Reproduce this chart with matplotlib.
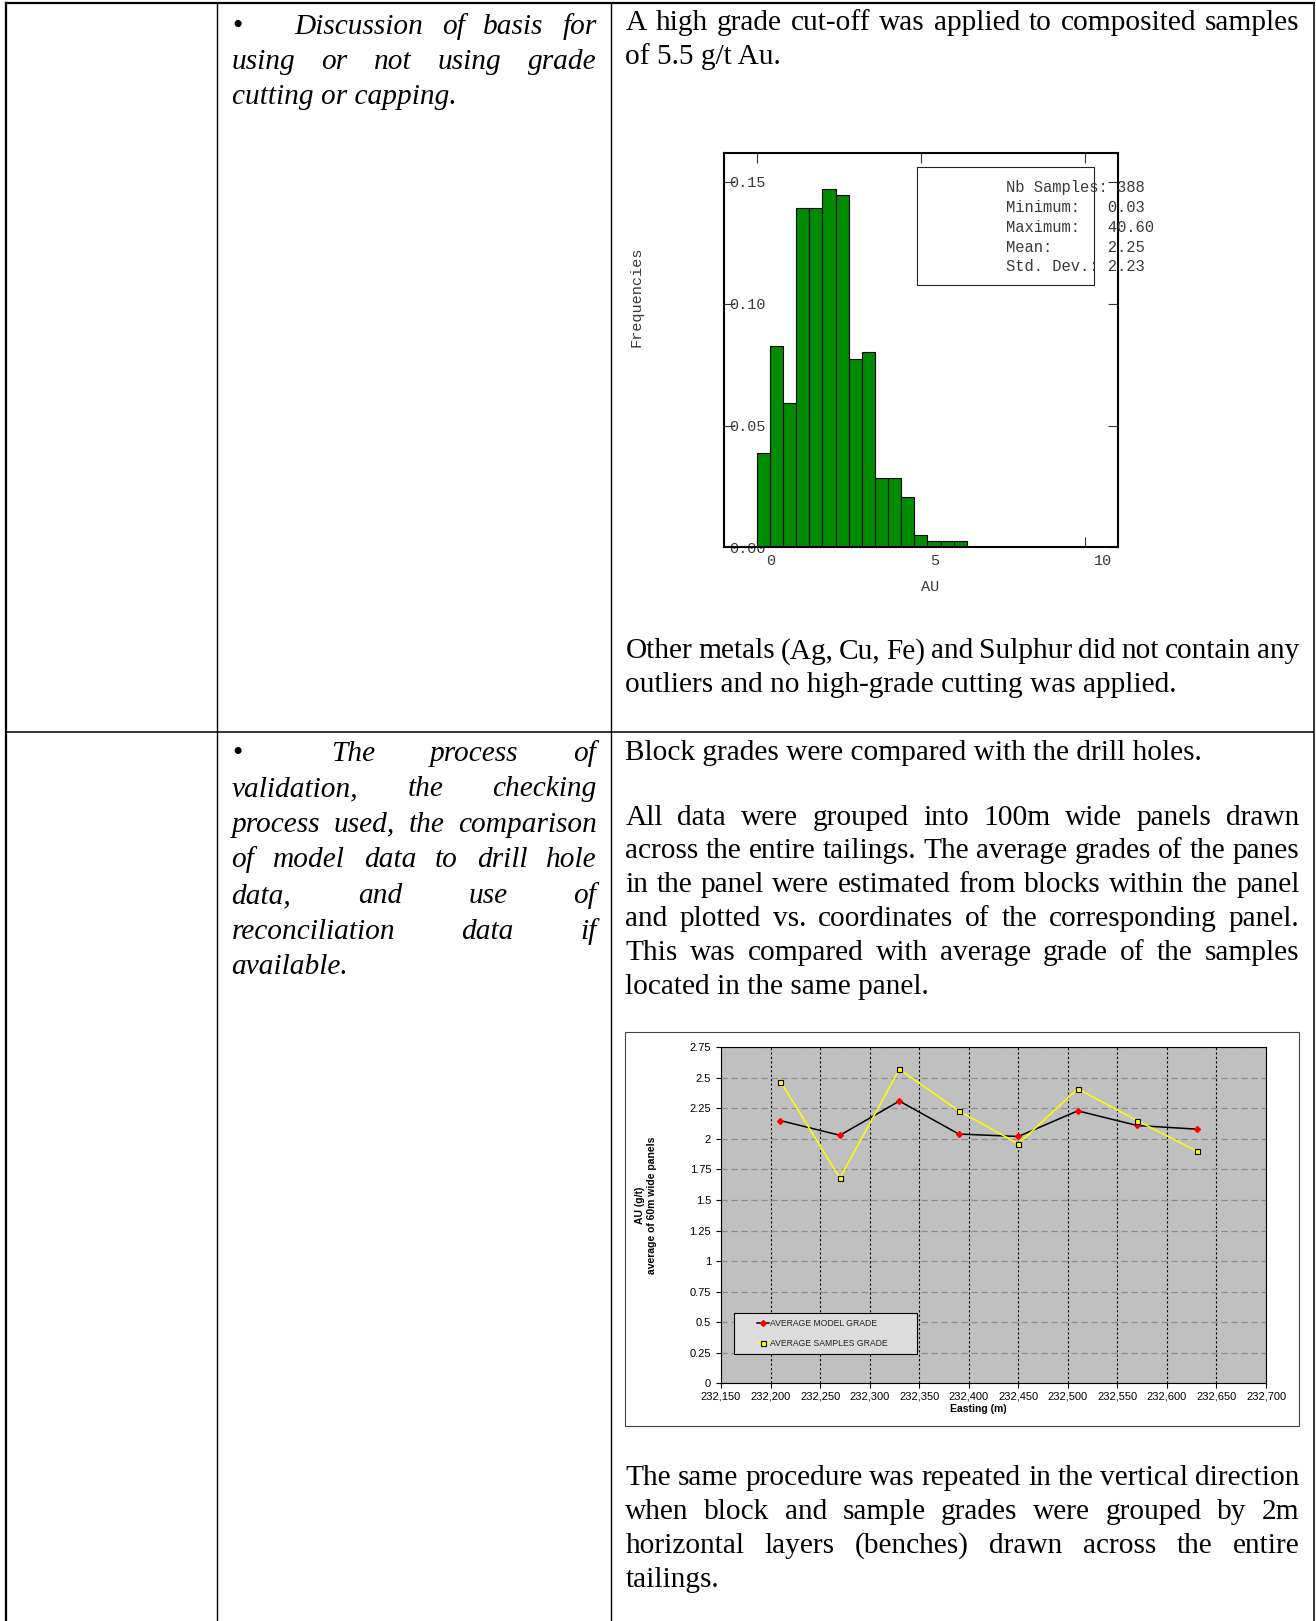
import numpy as np
import matplotlib
matplotlib.use('Agg')
import matplotlib.pyplot as plt
import matplotlib.transforms as mtransforms
from matplotlib.patches import Rectangle
from matplotlib.ticker import FuncFormatter

# --- histogram of composited Au samples ---
au_bin_left = [0.0, 0.4, 0.8, 1.2, 1.6, 2.0, 2.4, 2.8, 3.2, 3.6, 4.0, 4.4, 4.8, 5.2, 5.6, 6.0]
au_freq = [0.0386, 0.0825, 0.0592, 0.1395, 0.1395, 0.1473, 0.1446, 0.0773,
           0.0800, 0.0283, 0.0283, 0.0205, 0.0049, 0.0025, 0.0025, 0.0025]
n_samples = 388
au_min, au_max, au_mean, au_std = 0.03, 40.60, 2.25, 2.23

# --- panel validation (easting) ---
easting = [232210, 232270, 232330, 232390, 232450, 232510, 232570, 232630]
model_grade = [2.15, 2.03, 2.31, 2.04, 2.02, 2.23, 2.11, 2.08]
sample_grade = [2.47, 1.68, 2.57, 2.23, 1.96, 2.41, 2.15, 1.90]

# --- document text ---
mid_row1 = ['Discussion of basis for', 'using or not using grade', 'cutting or capping.']
mid_row2 = ['The process of', 'validation, the checking', 'process used, the comparison',
            'of model data to drill hole', 'data, and use of', 'reconciliation data if',
            'available.']
right_row1a = ['A high grade cut-off was applied to composited samples', 'of 5.5 g/t Au.']
right_row1b = ['Other metals (Ag, Cu, Fe) and Sulphur did not contain any',
               'outliers and no high-grade cutting was applied.']
right_row2a = ['Block grades were compared with the drill holes.']
right_row2b = ['All data were grouped into 100m wide panels drawn',
               'across the entire tailings. The average grades of the panes',
               'in the panel were estimated from blocks within the panel',
               'and plotted vs. coordinates of the corresponding panel.',
               'This was compared with average grade of the samples',
               'located in the same panel.']
right_row2c = ['The same procedure was repeated in the vertical direction',
               'when block and sample grades were grouped by 2m',
               'horizontal layers (benches) drawn across the entire',
               'tailings.']

W, H = 1316, 1621
SERIF = 'Liberation Serif'
MONO = 'Liberation Mono'
SANS = 'Liberation Sans'
GREY_TXT = '#3a3a3a'

fig = plt.figure(figsize=(W / 100, H / 100), dpi=100)
page = fig.add_axes([0, 0, 1, 1])
page.set_xlim(0, W)
page.set_ylim(H, 0)
page.axis('off')
renderer = fig.canvas.get_renderer()

# table rules
page.plot([5.5, 5.5], [3.3, H], color='black', lw=1.6)
page.plot([5.5, 1314], [3.3, 3.3], color='black', lw=1.6)
page.vlines([216.7, 611], 3.3, H, color='black', lw=1.0)
page.vlines(1314, 3.3, H, color='black', lw=1.1)
page.hlines(732, 5.5, 1314, color='black', lw=1.1)


def text_line(line, y, x0, x1, last, **kw):
    ''' writes one line of text, justified between x0 and x1 unless last '''
    if last or len(line.split()) == 1:
        page.text(x0, y, line, ha='left', va='baseline', **kw)
        return
    words = line.split()
    texts = [page.text(0, y, w, ha='left', va='baseline', **kw) for w in words]
    widths = [t.get_window_extent(renderer).width for t in texts]
    gap = (x1 - x0 - sum(widths)) / (len(words) - 1)
    x = x0
    for t, w in zip(texts, widths):
        t.set_x(x)
        x += w + gap


def paragraph(lines, y0, step, x0, x1, first_x0=None, **kw):
    for i, line in enumerate(lines):
        start = first_x0 if (i == 0 and first_x0 is not None) else x0
        text_line(line, y0 + i * step, start, x1, i == len(lines) - 1, **kw)


body = dict(family=SERIF, fontsize=21.2, color='black')
italic = dict(body, style='italic')

# middle column
page.text(237, 33.8, '\u2022', ha='center', va='baseline', **body)
paragraph(mid_row1, 33.8, 35.2, 231.6, 596.5, first_x0=294.6, **italic)
page.text(237, 760.6, '\u2022', ha='center', va='baseline', **body)
paragraph(mid_row2, 760.6, 35.6, 231.6, 596.5, first_x0=330.8, **italic)

# right column
paragraph(right_row1a, 29.7, 34.1, 625.4, 1299.5, **body)
paragraph(right_row1b, 658.2, 34.1, 625.4, 1299.5, **body)
paragraph(right_row2a, 759.5, 33.5, 625.4, 1299.5, **body)
paragraph(right_row2b, 824.7, 33.8, 625.4, 1299.5, **body)
paragraph(right_row2c, 1485.3, 33.8, 625.4, 1299.5, **body)

# ---------------- histogram ----------------
ax1 = fig.add_axes([724 / W, 1 - 547.3 / H, 393.7 / W, 394.6 / H])
ax1.bar(au_bin_left, au_freq, width=0.4, align='edge', color='#008C00',
        edgecolor='black', lw=0.8, zorder=2)
ax1.set_xlim(-1, 11)
ax1.set_ylim(0, 0.162)
ax1.set_xticks([0, 5, 10])
ax1.set_xticklabels(['0', '5', '10'], family=MONO)
ax1.set_yticks([0, 0.05, 0.10, 0.15])
ax1.set_yticklabels(['0.00', '0.05', '0.10', '0.15'], family=MONO)
ax1.tick_params(direction='in', length=7, width=0.8, color='#333333', top=True,
                right=True, labelsize=11, labelcolor=GREY_TXT)
ax1.tick_params(axis='y', pad=-4)
ax1.tick_params(axis='x', pad=4.5)
for lab in ax1.get_yticklabels():
    lab.set_ha('left')
shift = mtransforms.ScaledTranslation(0.09, 0, fig.dpi_scale_trans)
for lab in ax1.get_xticklabels():
    lab.set_ha('left')
    lab.set_transform(lab.get_transform() + shift)
for sp in ax1.spines.values():
    sp.set_linewidth(1.5)
    sp.set_color('black')
ax1.set_xlabel('AU', family=MONO, fontsize=11, color=GREY_TXT, va='center')
ax1.xaxis.set_label_coords(0.523, -0.101)
ax1.set_ylabel('Frequencies', family=MONO, fontsize=11, color=GREY_TXT, va='center')
ax1.yaxis.set_label_coords(-0.2235, 0.635)

# stats box
ax1.add_patch(Rectangle((0.491, 0.664), 0.4496, 0.3005, transform=ax1.transAxes,
                        fill=False, ec='#222222', lw=0.8, zorder=3))
stats = [f'Nb Samples: {n_samples}',
         f'Minimum:   {au_min:.2f}',
         f'Maximum:   {au_max:.2f}',
         f'Mean:      {au_mean:.2f}',
         f'Std. Dev.: {au_std:.2f}']
for i, s in enumerate(stats):
    ax1.text(0.716, 0.911 - i * 0.0500, s, transform=ax1.transAxes, family=MONO,
             fontsize=11.2, color=GREY_TXT, ha='left', va='center', clip_on=False, zorder=4)

# ---------------- panel line chart ----------------
page.add_patch(Rectangle((625.2, 1032.3), 673.5, 393.7, fill=False, ec='#444444', lw=0.8))

ax2 = fig.add_axes([721 / W, 1 - 1383.3 / H, 545 / W, 336 / H])
ax2.set_facecolor('#C0C0C0')
ax2.set_axisbelow(True)
ax2.plot(easting, model_grade, color='black', lw=1.1, marker='D', ms=3,
         mfc='red', mec='red', label='AVERAGE MODEL GRADE', zorder=4)
ax2.plot(easting, sample_grade, color='#FFFF00', lw=1.1, marker='s', ms=3.6,
         mfc='#FFFF00', mec='black', mew=0.8, label='AVERAGE SAMPLES GRADE', zorder=4)
ax2.set_xlim(232150, 232700)
ax2.set_ylim(0, 2.75)
ax2.set_xticks(np.arange(232150, 232701, 50))
ax2.set_yticks(np.arange(0, 2.76, 0.25))
ax2.xaxis.set_major_formatter(FuncFormatter(lambda v, p: f'{v:,.0f}'))
ax2.yaxis.set_major_formatter(FuncFormatter(lambda v, p: f'{v:g}'))
ax2.yaxis.grid(True, color='#8C8C8C', ls=(0, (5, 3)), lw=0.9)
ax2.xaxis.grid(True, color='black', ls=(0, (2, 2)), lw=0.8)
ax2.tick_params(direction='out', length=3.6, width=0.8, labelsize=8)
ax2.tick_params(axis='x', pad=2)
ax2.tick_params(axis='y', pad=3.5)
for lab in ax2.get_xticklabels() + ax2.get_yticklabels():
    lab.set_family(SANS)
for sp in ax2.spines.values():
    sp.set_linewidth(0.8)
    sp.set_color('black')
ax2.set_xlabel('Easting (m)', family=SANS, fontsize=7.5, weight='bold', va='center')
ax2.xaxis.set_label_coords(0.4716, -0.0774)
ax2.set_ylabel('AU (g/t)\naverage of 60m wide panels', family=SANS, fontsize=7.5,
               weight='bold', va='center', multialignment='center', linespacing=1.3)
ax2.yaxis.set_label_coords(-0.1376, 0.5307)

ax2.add_patch(Rectangle((0.0246, 0.0863), 0.3344, 0.1238, transform=ax2.transAxes,
                        fc='#DCDCDC', ec='black', lw=0.8, zorder=3))
leg = ax2.legend(frameon=False, loc='center left', bbox_to_anchor=(0.066, 0.148),
                 borderpad=0, borderaxespad=0, handlelength=1.4, handletextpad=0.1,
                 labelspacing=1.25, prop={'family': SANS, 'size': 6.2})
leg.set_zorder(5)
for t in leg.get_texts():
    t.set_color('#222222')

fig.savefig('out.png', dpi=100)
